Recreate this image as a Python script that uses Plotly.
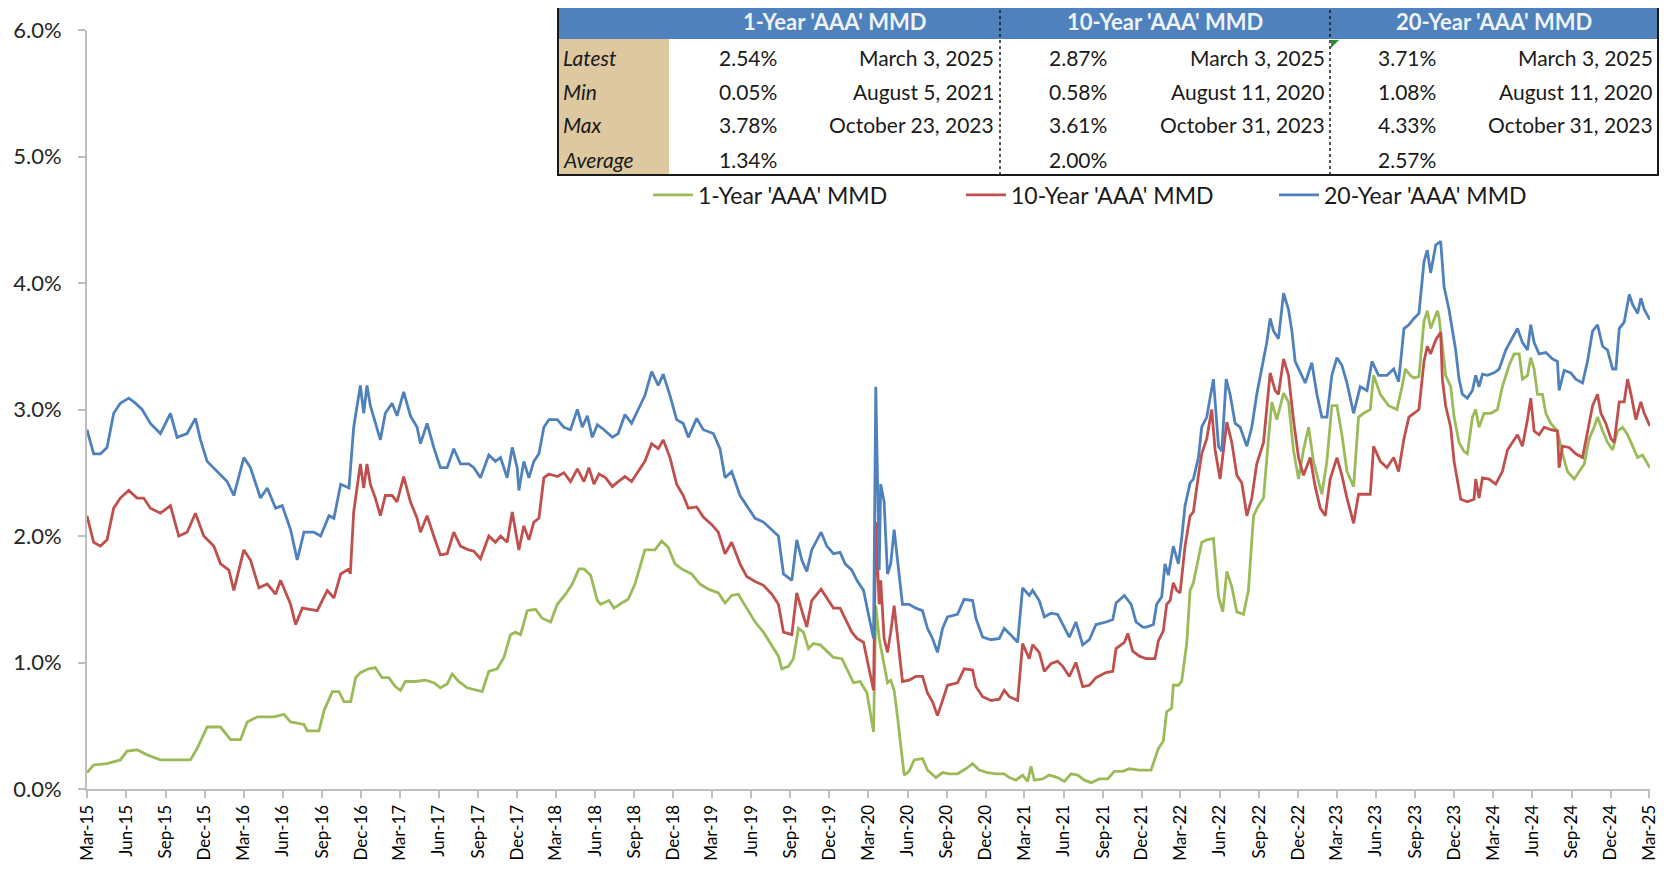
import pandas as pd
import plotly.graph_objects as go

# ---------------- data (month offset from 1-Mar-2015, yield %) ----------------
ONE_YEAR = [(0.0,0.13),(0.51,0.19),(1.54,0.20),(2.56,0.23),(3.08,0.30),(3.85,0.31),(4.62,0.27),(5.64,0.23),(6.67,0.23),(7.95,0.23),(8.46,0.32),(9.23,0.49),(10.26,0.49),(11.03,0.39),(11.79,0.39),(12.31,0.53),(13.08,0.57),(14.36,0.57),(15.13,0.59),(15.64,0.53),(16.67,0.51),(16.92,0.46),(17.82,0.46),(18.21,0.62),(18.85,0.77),(19.36,0.77),(19.74,0.69),(20.26,0.69),(20.64,0.88),(21.0,0.92),(21.64,0.95),(22.15,0.96),(22.67,0.88),(23.18,0.88),(23.69,0.81),(24.08,0.78),(24.46,0.85),(25.23,0.85),(26.0,0.86),(26.64,0.84),(27.15,0.80),(27.67,0.83),(28.05,0.91),(28.56,0.85),(29.21,0.80),(29.85,0.78),(30.36,0.77),(30.87,0.93),(31.51,0.95),(32.03,1.04),(32.54,1.22),(32.92,1.24),(33.31,1.22),(33.82,1.41),(34.46,1.42),(34.97,1.35),(35.62,1.32),(36.13,1.46),(36.77,1.54),(37.28,1.62),(37.79,1.74),(38.18,1.74),(38.69,1.69),(39.21,1.49),(39.46,1.46),(40.1,1.49),(40.49,1.43),(41.07,1.47),(41.58,1.50),(42.1,1.62),(42.61,1.81),(42.86,1.89),(43.63,1.89),(44.15,1.96),(44.66,1.91),(45.17,1.78),(45.68,1.74),(46.45,1.70),(47.09,1.62),(47.74,1.58),(48.51,1.55),(49.02,1.47),(49.53,1.53),(50.04,1.54),(50.68,1.43),(51.33,1.32),(51.97,1.24),(52.61,1.14),(53.12,1.05),(53.38,0.95),(53.89,0.97),(54.27,1.03),(54.66,1.27),(55.04,1.24),(55.43,1.11),(55.81,1.15),(56.33,1.14),(56.84,1.09),(57.35,1.04),(58.0,1.03),(58.51,0.92),(58.89,0.84),(59.4,0.85),(59.92,0.76),(60.43,0.45),(60.6,1.45),(60.86,1.19),(61.11,1.05),(61.5,0.84),(61.75,0.86),(62.01,0.78),(62.27,0.57),(62.52,0.32),(62.78,0.11),(63.16,0.14),(63.55,0.23),(64.19,0.24),(64.57,0.15),(65.22,0.09),(65.73,0.13),(66.24,0.12),(66.88,0.12),(67.52,0.16),(68.04,0.20),(68.55,0.15),(69.19,0.13),(69.83,0.12),(70.47,0.12),(70.86,0.09),(71.37,0.07),(71.88,0.11),(72.27,0.06),(72.52,0.18),(72.78,0.07),(73.42,0.08),(73.93,0.11),(74.57,0.09),(75.09,0.06),(75.6,0.12),(76.11,0.11),(76.63,0.07),(77.15,0.05),(77.78,0.08),(78.42,0.08),(78.93,0.14),(79.57,0.14),(80.09,0.16),(80.86,0.15),(81.75,0.15),(82.31,0.32),(82.69,0.38),(82.95,0.61),(83.33,0.64),(83.46,0.82),(83.85,0.82),(84.1,0.85),(84.49,1.15),(84.75,1.57),(85.0,1.63),(85.39,1.81),(85.64,1.95),(86.03,1.97),(86.54,1.98),(86.93,1.52),(87.26,1.40),(87.57,1.72),(87.95,1.60),(88.34,1.40),(88.85,1.38),(89.23,1.57),(89.62,2.16),(90.0,2.24),(90.39,2.30),(90.77,2.77),(91.03,3.06),(91.41,2.92),(91.93,3.13),(92.31,3.06),(92.69,2.68),(93.08,2.45),(93.46,2.68),(93.85,2.86),(94.23,2.59),(94.87,2.33),(95.26,2.59),(95.64,3.03),(96.03,3.03),(96.41,2.80),(96.8,2.51),(97.31,2.39),(97.69,2.94),(98.08,2.97),(98.59,3.00),(98.85,3.27),(99.36,3.12),(100.0,3.03),(100.64,3.00),(101.03,3.18),(101.29,3.32),(101.67,3.27),(101.95,3.25),(102.33,3.26),(102.72,3.70),(102.97,3.78),(103.23,3.64),(103.75,3.78),(103.87,3.73),(104.13,3.50),(104.38,3.27),(104.77,3.18),(105.03,2.94),(105.41,2.74),(105.79,2.67),(106.05,2.65),(106.44,2.94),(106.69,3.00),(106.95,2.86),(107.33,2.97),(107.85,2.97),(108.36,3.00),(108.74,3.18),(109.26,3.35),(109.64,3.44),(110.03,3.44),(110.28,3.24),(110.67,3.27),(110.92,3.41),(111.18,3.32),(111.44,3.12),(111.82,3.12),(112.08,2.97),(112.46,2.89),(112.97,2.83),(113.36,2.65),(113.74,2.51),(114.26,2.45),(114.64,2.51),(115.03,2.57),(115.41,2.77),(115.79,2.86),(116.05,2.94),(116.44,2.83),(116.82,2.74),(117.21,2.68),(117.59,2.83),(117.97,2.86),(118.36,2.80),(118.74,2.71),(119.13,2.62),(119.51,2.64),(120.07,2.54)]

TEN_YEAR = [(0.0,2.16),(0.51,1.95),(1.03,1.92),(1.54,1.97),(2.05,2.22),(2.56,2.30),(3.21,2.36),(3.85,2.30),(4.36,2.30),(4.87,2.22),(5.64,2.18),(6.41,2.24),(7.05,2.00),(7.69,2.03),(8.33,2.18),(8.97,2.00),(9.74,1.92),(10.26,1.78),(10.9,1.73),(11.28,1.57),(12.05,1.89),(12.56,1.81),(13.21,1.59),(13.85,1.62),(14.49,1.54),(14.87,1.65),(15.64,1.46),(16.03,1.30),(16.54,1.43),(17.18,1.42),(17.69,1.41),(18.46,1.57),(18.97,1.51),(19.49,1.70),(20.13,1.74),(20.23,1.70),(20.49,2.19),(21.0,2.57),(21.26,2.38),(21.51,2.57),(21.77,2.41),(22.15,2.30),(22.54,2.16),(22.92,2.32),(23.44,2.32),(23.82,2.27),(24.33,2.47),(24.85,2.27),(25.36,2.14),(25.62,2.03),(26.13,2.16),(26.64,2.00),(27.15,1.85),(27.67,1.86),(28.18,2.03),(28.69,1.92),(29.33,1.89),(29.72,1.88),(30.23,1.82),(30.87,2.00),(31.38,1.95),(31.77,2.00),(32.28,1.95),(32.67,2.19),(33.18,1.89),(33.56,2.08),(33.95,1.97),(34.33,2.11),(34.72,2.14),(35.1,2.46),(35.49,2.49),(36.13,2.47),(36.64,2.50),(37.15,2.43),(37.67,2.53),(38.18,2.43),(38.56,2.54),(38.95,2.41),(39.33,2.49),(39.85,2.46),(40.36,2.39),(40.81,2.43),(41.33,2.47),(41.84,2.43),(42.35,2.51),(42.86,2.59),(43.38,2.73),(43.89,2.69),(44.27,2.76),(44.79,2.62),(45.3,2.41),(45.81,2.32),(46.2,2.22),(46.84,2.23),(47.35,2.15),(48.0,2.09),(48.5,2.03),(49.02,1.86),(49.53,1.95),(50.17,1.78),(50.68,1.68),(51.33,1.64),(51.97,1.61),(52.61,1.54),(53.12,1.46),(53.51,1.24),(54.15,1.22),(54.53,1.55),(54.92,1.41),(55.3,1.28),(55.68,1.49),(56.4,1.58),(56.84,1.51),(57.35,1.43),(57.86,1.43),(58.25,1.35),(58.76,1.24),(59.15,1.19),(59.66,1.16),(60.04,0.97),(60.43,0.78),(60.6,2.11),(60.86,1.46),(60.98,1.65),(61.24,1.19),(61.5,1.08),(61.75,1.24),(62.01,1.45),(62.27,1.19),(62.65,0.85),(63.16,0.86),(63.68,0.89),(64.19,0.89),(64.57,0.76),(64.96,0.69),(65.34,0.58),(65.73,0.70),(66.11,0.82),(66.88,0.84),(67.39,0.95),(68.04,0.94),(68.29,0.81),(68.81,0.73),(69.45,0.70),(70.09,0.71),(70.47,0.78),(70.86,0.73),(71.5,0.70),(71.88,1.15),(72.39,1.03),(72.65,1.14),(73.16,1.08),(73.55,0.93),(74.06,0.99),(74.57,1.01),(74.96,0.97),(75.47,0.89),(75.98,1.00),(76.5,0.81),(77.01,0.82),(77.52,0.88),(78.29,0.92),(78.81,0.93),(79.06,1.11),(79.7,1.16),(79.96,1.23),(80.34,1.09),(80.86,1.05),(81.37,1.03),(82.05,1.03),(82.31,1.17),(82.69,1.25),(82.95,1.46),(83.21,1.49),(83.46,1.63),(83.72,1.57),(83.98,1.55),(84.36,1.92),(84.75,2.16),(85.0,2.19),(85.39,2.48),(85.64,2.65),(86.03,2.77),(86.41,3.00),(86.67,2.68),(87.05,2.45),(87.57,2.90),(87.95,2.74),(88.34,2.48),(88.72,2.42),(89.11,2.16),(89.49,2.30),(89.87,2.57),(90.39,2.74),(90.9,3.29),(91.28,3.15),(91.54,3.12),(91.93,3.40),(92.31,3.27),(92.69,2.92),(93.08,2.62),(93.46,2.48),(93.98,2.62),(94.36,2.39),(94.75,2.22),(95.13,2.16),(95.51,2.45),(96.03,2.62),(96.41,2.48),(96.8,2.30),(97.31,2.10),(97.69,2.33),(98.08,2.33),(98.59,2.33),(98.85,2.71),(99.36,2.59),(99.87,2.54),(100.39,2.62),(100.77,2.51),(101.18,2.77),(101.56,2.94),(101.95,2.97),(102.33,3.00),(102.72,3.38),(102.97,3.50),(103.23,3.44),(103.62,3.55),(104.0,3.61),(104.13,3.24),(104.38,3.03),(104.77,2.86),(105.03,2.59),(105.28,2.45),(105.54,2.29),(106.05,2.27),(106.56,2.29),(106.69,2.45),(106.95,2.30),(107.21,2.46),(107.72,2.45),(108.23,2.41),(108.74,2.51),(109.13,2.68),(109.51,2.74),(109.9,2.80),(110.28,2.71),(110.67,2.92),(110.92,3.09),(111.18,2.83),(111.56,2.80),(111.95,2.86),(112.46,2.84),(112.97,2.83),(113.1,2.54),(113.36,2.71),(113.87,2.70),(114.38,2.65),(114.9,2.62),(115.28,2.83),(115.67,3.03),(116.05,3.12),(116.31,2.97),(116.69,2.89),(117.08,2.77),(117.33,2.74),(117.72,3.06),(118.1,3.06),(118.36,3.24),(118.62,3.12),(119.0,2.92),(119.38,3.06),(119.64,2.97),(120.07,2.87)]

TWENTY_YEAR = [(0.0,2.84),(0.51,2.65),(1.03,2.65),(1.54,2.70),(2.05,2.97),(2.56,3.05),(3.21,3.09),(3.72,3.05),(4.23,3.00),(4.87,2.89),(5.64,2.81),(6.41,2.97),(6.92,2.78),(7.69,2.81),(8.33,2.93),(8.72,2.76),(9.23,2.59),(10.0,2.51),(10.77,2.43),(11.28,2.32),(12.05,2.62),(12.56,2.54),(13.33,2.30),(13.85,2.38),(14.49,2.22),(15.0,2.24),(15.64,2.05),(16.15,1.81),(16.67,2.03),(17.44,2.03),(17.95,2.00),(18.59,2.16),(18.97,2.14),(19.49,2.41),(20.13,2.38),(20.49,2.86),(21.0,3.19),(21.26,2.97),(21.51,3.19),(21.77,3.03),(22.15,2.89),(22.54,2.76),(22.92,2.97),(23.44,3.05),(23.82,2.95),(24.33,3.14),(24.85,2.95),(25.36,2.86),(25.62,2.73),(26.13,2.89),(26.64,2.70),(27.15,2.54),(27.67,2.54),(28.18,2.69),(28.69,2.57),(29.33,2.57),(29.72,2.54),(30.23,2.46),(30.87,2.64),(31.38,2.59),(31.77,2.62),(32.28,2.46),(32.67,2.70),(33.05,2.54),(33.18,2.36),(33.56,2.59),(33.95,2.46),(34.33,2.59),(34.72,2.65),(35.1,2.86),(35.49,2.92),(36.13,2.92),(36.64,2.86),(37.15,2.84),(37.67,3.00),(38.05,2.86),(38.44,2.95),(38.82,2.78),(39.21,2.88),(39.72,2.84),(40.36,2.78),(40.81,2.81),(41.33,2.96),(41.84,2.89),(42.35,3.00),(42.86,3.11),(43.38,3.30),(43.89,3.19),(44.27,3.28),(44.79,3.11),(45.3,2.92),(45.81,2.89),(46.2,2.78),(46.84,2.93),(47.35,2.84),(48.12,2.81),(48.63,2.69),(49.02,2.46),(49.53,2.51),(50.17,2.32),(50.68,2.24),(51.33,2.14),(51.97,2.11),(52.61,2.05),(53.12,2.00),(53.51,1.70),(54.15,1.65),(54.53,1.97),(54.92,1.81),(55.3,1.72),(55.68,1.89),(56.4,2.03),(56.84,1.92),(57.35,1.86),(57.86,1.87),(58.25,1.78),(58.76,1.73),(59.15,1.65),(59.66,1.57),(60.04,1.38),(60.43,1.19),(60.6,3.18),(60.86,1.73),(60.98,2.41),(61.24,2.27),(61.5,1.70),(61.75,1.78),(62.01,2.05),(62.27,1.81),(62.65,1.46),(63.16,1.46),(63.68,1.43),(64.19,1.41),(64.57,1.27),(64.96,1.19),(65.34,1.08),(65.73,1.27),(66.11,1.36),(66.88,1.38),(67.39,1.50),(68.04,1.49),(68.29,1.35),(68.81,1.20),(69.45,1.18),(70.09,1.19),(70.47,1.27),(70.86,1.23),(71.5,1.16),(71.88,1.59),(72.39,1.53),(72.65,1.57),(73.16,1.49),(73.55,1.36),(74.06,1.39),(74.57,1.38),(74.96,1.30),(75.47,1.20),(75.98,1.32),(76.5,1.14),(77.01,1.18),(77.52,1.30),(78.29,1.32),(78.81,1.34),(79.06,1.47),(79.7,1.53),(80.22,1.46),(80.6,1.32),(81.11,1.28),(81.41,1.28),(81.93,1.30),(82.18,1.46),(82.57,1.52),(82.82,1.78),(83.08,1.69),(83.46,1.92),(83.85,1.78),(84.1,1.98),(84.36,2.24),(84.75,2.42),(85.0,2.45),(85.39,2.62),(85.64,2.86),(86.03,2.94),(86.28,3.09),(86.54,3.24),(86.93,2.71),(87.18,2.67),(87.52,3.24),(87.82,3.12),(88.21,2.89),(88.59,2.86),(89.11,2.71),(89.49,2.86),(89.87,3.12),(90.26,3.32),(90.64,3.53),(90.9,3.72),(91.16,3.62),(91.54,3.56),(91.93,3.92),(92.31,3.79),(92.57,3.62),(92.82,3.38),(93.21,3.29),(93.59,3.21),(94.1,3.37),(94.49,3.12),(94.87,2.94),(95.26,2.94),(95.64,3.27),(96.03,3.41),(96.41,3.35),(96.8,3.21),(97.31,2.97),(97.82,3.18),(98.34,3.15),(98.72,3.38),(99.23,3.27),(99.87,3.27),(100.39,3.32),(100.77,3.22),(101.18,3.64),(101.56,3.67),(101.95,3.72),(102.33,3.76),(102.72,4.17),(102.97,4.26),(103.23,4.08),(103.62,4.30),(104.0,4.33),(104.26,3.97),(104.64,3.79),(104.9,3.62),(105.15,3.47),(105.41,3.24),(105.67,3.12),(106.05,3.09),(106.44,3.15),(106.69,3.27),(106.95,3.18),(107.21,3.28),(107.59,3.27),(108.1,3.29),(108.49,3.32),(109.0,3.47),(109.51,3.56),(109.9,3.64),(110.28,3.53),(110.67,3.47),(110.92,3.67),(111.18,3.53),(111.56,3.44),(112.08,3.45),(112.59,3.40),(112.97,3.38),(113.1,3.15),(113.49,3.31),(114.0,3.29),(114.38,3.24),(114.9,3.21),(115.28,3.38),(115.67,3.62),(116.05,3.67),(116.44,3.50),(116.82,3.47),(117.21,3.32),(117.46,3.32),(117.72,3.64),(118.1,3.69),(118.49,3.91),(118.74,3.83),(119.13,3.76),(119.38,3.88),(119.64,3.79),(120.07,3.71)]

SERIES_NAMES = ["1-Year 'AAA' MMD", "10-Year 'AAA' MMD", "20-Year 'AAA' MMD"]
SERIES_COLORS = ["#9BBB59", "#C0504D", "#4F81BD"]

ROW_LABELS = ["Latest", "Min", "Max", "Average"]
T1_VALUES = ["2.54%", "0.05%", "3.78%", "1.34%"]
T1_DATES = ["March 3, 2025", "August 5, 2021", "October 23, 2023", ""]
T10_VALUES = ["2.87%", "0.58%", "3.61%", "2.00%"]
T10_DATES = ["March 3, 2025", "August 11, 2020", "October 31, 2023", ""]
T20_VALUES = ["3.71%", "1.08%", "4.33%", "2.57%"]
T20_DATES = ["March 3, 2025", "August 11, 2020", "October 31, 2023", ""]

BASE = pd.Timestamp("2015-03-01")

def to_dates(pairs):
    return [BASE + pd.Timedelta(days=m * 30.4375) for m, _ in pairs], [v for _, v in pairs]

# ---------------- layout geometry (screen px; page body has 8px margin) ----------------
OFF = 8
W, H = 1671 - 2 * OFF, 885 - 2 * OFF
PX0, PX1, PY0, PY1 = 87, 1650, 30, 789          # plot area in screen pixels
L, T = PX0 - OFF, PY0 - OFF
R, B = W - (PX1 - OFF), H - (PY1 - OFF)
PW, PH = PX1 - PX0, PY1 - PY0

def px(x):
    return (x - PX0) / PW

def py(y):
    return (PY1 - y) / PH

FONT = "Lato"

fig = go.Figure()
for pairs, name, color in zip([ONE_YEAR, TEN_YEAR, TWENTY_YEAR], SERIES_NAMES, SERIES_COLORS):
    xs, ys = to_dates(pairs)
    fig.add_trace(go.Scatter(x=xs, y=ys, mode="lines", name=name,
                             line=dict(color=color, width=2.8), hoverinfo="skip"))

tickvals = pd.date_range("2015-03-01", "2025-03-01", freq="3MS")
ticktext = [d.strftime("%b-%y") for d in tickvals]

fig.update_xaxes(type="date", range=["2015-03-01", "2025-03-03"],
                 tickvals=tickvals, ticktext=ticktext, tickangle=-90,
                 tickfont=dict(family=FONT, size=17, color="#000000"),
                 showline=True, linecolor="#BFBFBF", linewidth=2,
                 ticks="outside", ticklen=7, tickcolor="#BFBFBF", tickwidth=2,
                 showgrid=False, zeroline=False)
fig.update_yaxes(range=[0, 6], dtick=1, tickformat=".1f", ticksuffix="%",
                 tickfont=dict(family=FONT, size=22, color="#262626"),
                 ticklabelstandoff=12,
                 showline=True, linecolor="#BFBFBF", linewidth=2,
                 ticks="outside", ticklen=7, tickcolor="#BFBFBF", tickwidth=2,
                 showgrid=False, zeroline=False)

# ---------------- summary table ----------------
TX0, TX1 = 558, 1658
HY0, HY1 = 5, 39
ROW_H = 34
TY1 = HY1 + ROW_H * 4
LABEL_X1 = 669
SEP1, SEP2 = 1000, 1330

shapes = [
    dict(type="rect", xref="paper", yref="paper", x0=px(TX0), x1=px(TX1), y0=py(HY1), y1=py(HY0),
         fillcolor="#4F81BD", line=dict(width=0), layer="above"),
    dict(type="rect", xref="paper", yref="paper", x0=px(TX0), x1=px(LABEL_X1), y0=py(TY1), y1=py(HY1),
         fillcolor="#DDC8A0", line=dict(width=0), layer="above"),
    dict(type="rect", xref="paper", yref="paper", x0=px(TX0), x1=px(TX1), y0=py(TY1), y1=py(HY0),
         fillcolor="rgba(0,0,0,0)", line=dict(color="#1a1a1a", width=2), layer="above"),
]
for sx in (SEP1, SEP2):
    shapes.append(dict(type="line", xref="paper", yref="paper", x0=px(sx), x1=px(sx),
                       y0=py(TY1), y1=py(HY0), line=dict(color="#1a1a1a", width=1.5, dash="dot"),
                       layer="above"))
shapes.append(dict(type="path", xref="paper", yref="paper",
                   path=f"M {px(SEP2+1)} {py(HY1+1)} L {px(SEP2+9)} {py(HY1+1)} L {px(SEP2+1)} {py(HY1+9)} Z",
                   fillcolor="#2E8B2E", line=dict(width=0), layer="above"))

annotations = []
TFS = 21

def ann(text, x, y, anchor, bold=False, italic=False, color="#1a1a1a", size=TFS):
    t = text
    if bold:
        t = f"<b>{t}</b>"
    if italic:
        t = f"<i>{t}</i>"
    annotations.append(dict(text=t, x=px(x), y=py(y), xref="paper", yref="paper",
                            xanchor=anchor, yanchor="middle", showarrow=False,
                            font=dict(family=FONT, size=size, color=color)))

hy = (HY0 + HY1) / 2
ann(SERIES_NAMES[0], (LABEL_X1 + SEP1) / 2, hy, "center", bold=True, color="#EEF3FA", size=22)
ann(SERIES_NAMES[1], (SEP1 + SEP2) / 2, hy, "center", bold=True, color="#EEF3FA", size=22)
ann(SERIES_NAMES[2], (SEP2 + TX1) / 2, hy, "center", bold=True, color="#EEF3FA", size=22)

for i, lab in enumerate(ROW_LABELS):
    cy = HY1 + ROW_H * i + ROW_H / 2 + 1
    ann(lab, 561, cy, "left", italic=True)
    ann(T1_VALUES[i], 779, cy, "right")
    ann(T1_DATES[i], 996, cy, "right")
    ann(T10_VALUES[i], 1109, cy, "right")
    ann(T10_DATES[i], 1327, cy, "right")
    ann(T20_VALUES[i], 1438, cy, "right")
    ann(T20_DATES[i], 1655, cy, "right")

fig.update_layout(
    width=W, height=H,
    margin=dict(l=L, r=R, t=T, b=B, autoexpand=False),
    paper_bgcolor="white", plot_bgcolor="white",
    shapes=shapes, annotations=annotations,
    showlegend=True,
    legend=dict(orientation="h", x=px(648), y=py(195), xanchor="left", yanchor="middle",
                entrywidth=258, entrywidthmode="pixels",
                font=dict(family=FONT, size=23, color="#1a1a1a"),
                bgcolor="rgba(0,0,0,0)", itemwidth=40),
)

fig.write_html("out.html")
